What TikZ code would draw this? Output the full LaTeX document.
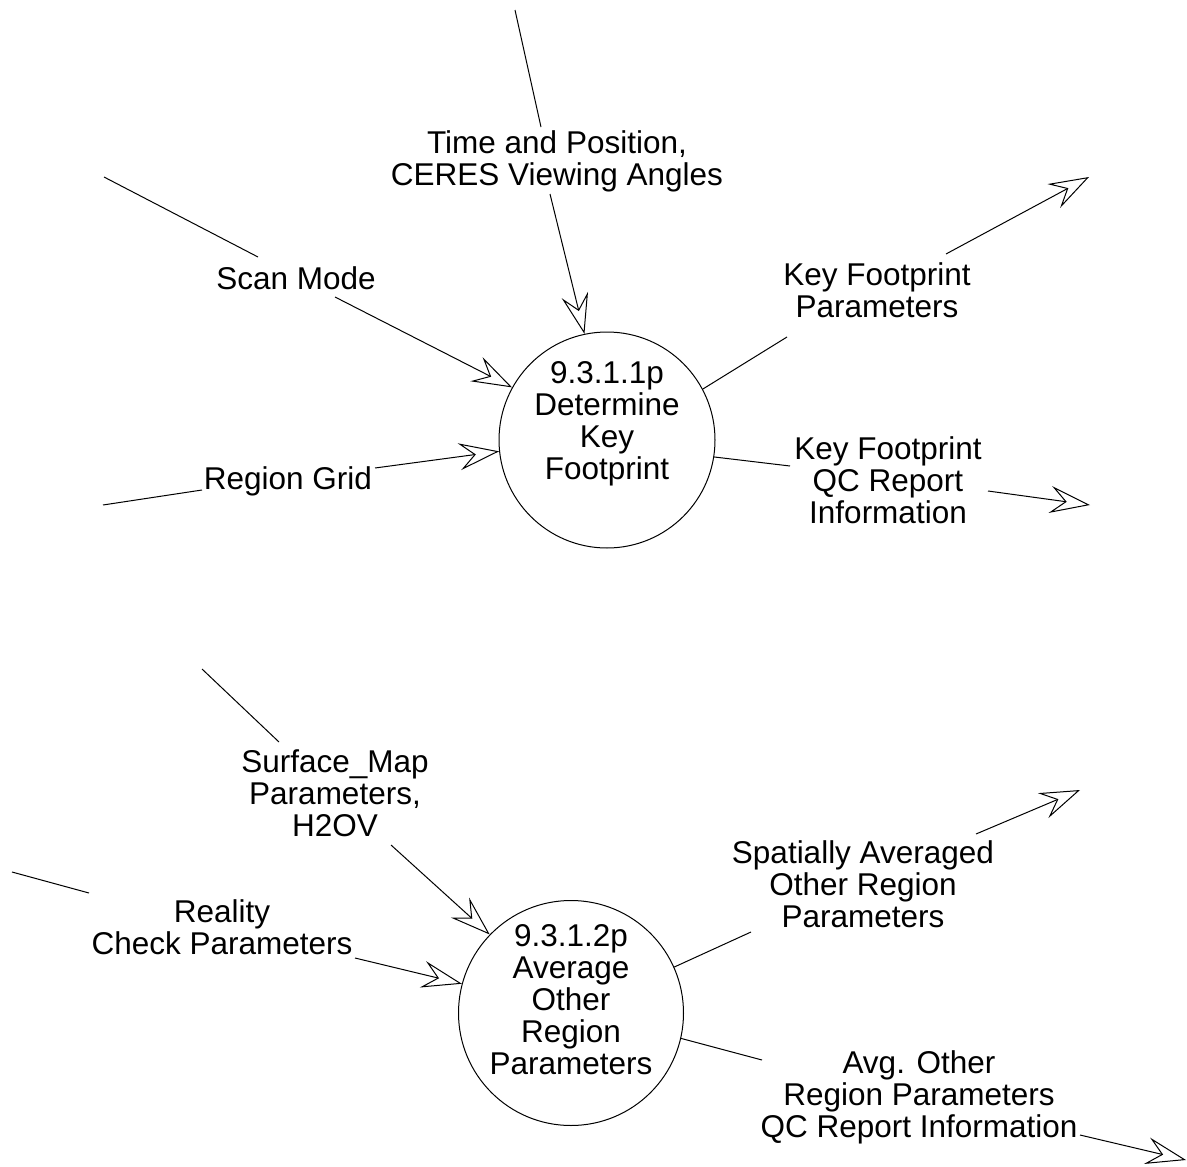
\documentclass[tikz,border=0pt]{standalone}
\usepackage{fontspec}
\setmainfont{Liberation Sans}
\usetikzlibrary{arrows.meta}
\begin{document}
\begin{tikzpicture}[x=1pt,y=-1pt,
  lbl/.style={align=center,inner sep=0pt,font=\fontsize{31.5}{32}\selectfont},
  proc/.style={circle,draw,line width=1pt,inner sep=0pt},
  flow/.style={line width=1pt},
  arr/.style={flow,-{Stealth[open,length=40pt,width=27pt,inset=15pt]}}]
\useasboundingbox (0,0) rectangle (1187,1167);
% processes
\node[proc,minimum size=216pt] (c1) at (607,440) {};
\node[lbl] (c1t) at (607,424) {9.3.1.1p\\Determine\\Key\\Footprint};
\node[proc,minimum size=225pt] (c2) at (571,1013) {};
\node[lbl] (c2t) at (571,1000) {9.3.1.2p\\Average\\Other\\Region\\Parameters};
% labels
\node[lbl] (la) at (557,161) {Time and Position,\\CERES Viewing Angles};
\node[lbl] (lb) at (296,278) {Scan Mode};
\node[lbl] (lc) at (288,481) {Region Grid};
\node[lbl] (ld) at (877,290) {Key Footprint\\Parameters};
\node[lbl] (le) at (888,480) {Key Footprint\\QC Report\\Information};
\node[lbl] (lf) at (335,793) {Surface\_Map\\Parameters,\\H2OV};
\node[lbl] (lg) at (222,927) {Reality\\Check Parameters};
\node[lbl] (lh) at (863,884) {Spatially Averaged\\Other Region\\Parameters};
\node[lbl] (li) at (919,1097) {Avg. Other\\Region Parameters\\QC Report Information};
% coordinates
\coordinate (a0) at (515,10);   \coordinate (a1) at (541,127);  \coordinate (a2) at (550,194);
\coordinate (b0) at (104,177);  \coordinate (b1) at (258,257);  \coordinate (b2) at (335,297);
\coordinate (cc0) at (103,505); \coordinate (cc1) at (202,490); \coordinate (cc2) at (375,468);
\coordinate (d1) at (787,337);  \coordinate (d2) at (946,254);  \coordinate (d3) at (1089,177);
\coordinate (e1) at (790,466);  \coordinate (e2) at (988,491);  \coordinate (e3) at (1090,505);
\coordinate (f0) at (202,669);  \coordinate (f1) at (279,742);  \coordinate (f2) at (391,845);
\coordinate (g0) at (12,872);   \coordinate (g1) at (89,893);   \coordinate (g2) at (355,958);
\coordinate (h1) at (751,932);  \coordinate (h2) at (976,834);  \coordinate (h3) at (1080,790);
\coordinate (i1) at (762,1060); \coordinate (i2) at (1080,1135); \coordinate (i3) at (1186,1160);
% flows
\draw[flow] (a0) -- (a1);  \draw[arr] (a2) -- (c1.102.4);
\draw[flow] (b0) -- (b1);  \draw[arr] (b2) -- (c1.151.5);
\draw[flow] (cc0) -- (cc1); \draw[arr] (cc2) -- (c1.186.9);
\draw[flow] (c1.28.7) -- (d1); \draw[arr] (d2) -- (d3);
\draw[flow] (c1.-9) -- (e1);   \draw[arr] (e2) -- (e3);
\draw[flow] (f0) -- (f1);  \draw[arr] (f2) -- (c2.136.8);
\draw[flow] (g0) -- (g1);  \draw[arr] (g2) -- (c2.165.7);
\draw[flow] (c2.24.1) -- (h1); \draw[arr] (h2) -- (h3);
\draw[flow] (c2.-13.4) -- (i1); \draw[arr] (i2) -- (i3);
\end{tikzpicture}
\end{document}
